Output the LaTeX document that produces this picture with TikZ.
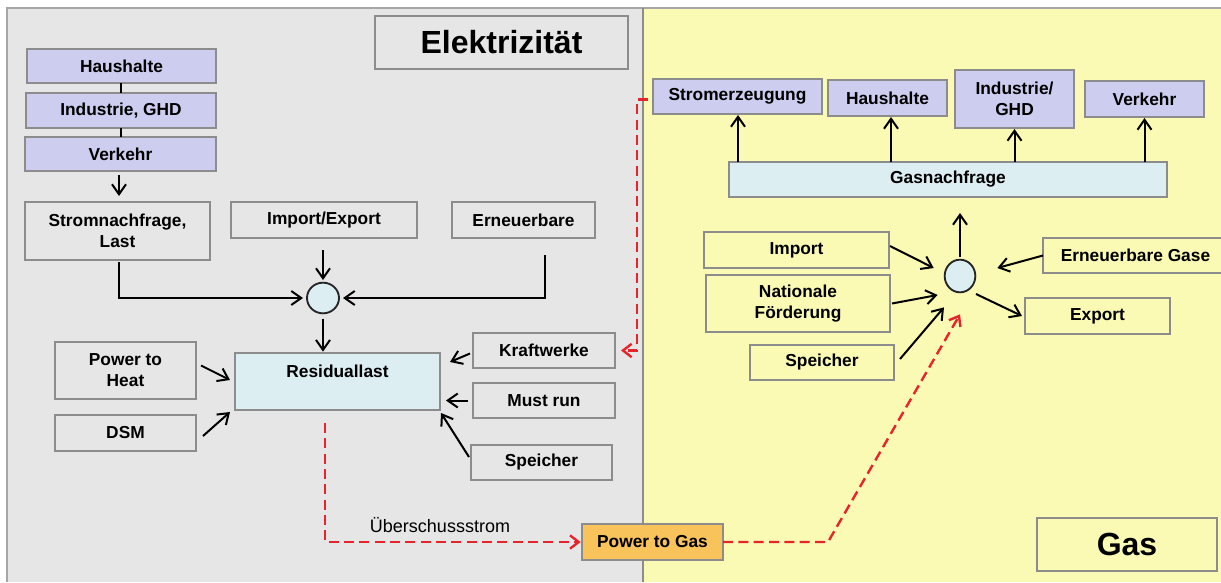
\documentclass[tikz,border=0pt]{standalone}
\usepackage{fontspec}
\setmainfont{Liberation Sans}
\usetikzlibrary{arrows.meta,calc,shapes.geometric}
\definecolor{graybg}{HTML}{E6E6E6}
\definecolor{yellowbg}{HTML}{FAFAB4}
\definecolor{purplebox}{HTML}{CDCDF0}
\definecolor{cyanbox}{HTML}{DCEEF2}
\definecolor{orangebox}{HTML}{F9C35B}
\definecolor{bordergray}{HTML}{8C8C8C}
\definecolor{reddash}{HTML}{E8242B}
\newcommand\bx[7]{\node[#2, minimum width={(#5-#3)*0.75pt}, minimum height={(#6-#4)*0.75pt}] (#1) at ({(#3+#5)/2},{(#4+#6)/2}) {#7};}
\tikzset{
  base/.style={draw=bordergray, line width=1.5pt, inner sep=0pt, outer sep=0pt, align=center,
    font=\fontsize{13}{15.75}\selectfont\bfseries, text=black},
  graybox/.style={base, fill=graybg},
  yellowbox/.style={base, fill=yellowbg},
  purplebox/.style={base, fill=purplebox},
  cyanbox/.style={base, fill=cyanbox},
  orangebox/.style={base, fill=orangebox},
  titlebox/.style={base, font=\fontsize{24}{28}\selectfont\bfseries},
  arr/.style={-{Straight Barb[length=7.5pt,width=10.5pt,line width=1.5pt]}, line width=1.5pt, black},
  plain/.style={line width=1.5pt, black},
  rdash/.style={-{Straight Barb[length=6.5pt,width=10pt,line width=1.8pt]}, line width=1.8pt, reddash, dash pattern=on 7.5pt off 4pt},
  junction/.style={draw=black!85, line width=1.4pt, fill=cyanbox, ellipse, inner sep=0pt, outer sep=0pt},
}
\begin{document}
\begin{tikzpicture}[x=0.75pt,y=-0.75pt]
\useasboundingbox (0,0) rectangle (1221,582);
\fill[white] (0,0) rectangle (1221,582);
\fill[graybg] (7,8) rectangle (643,582);
\fill[yellowbg] (643,8) rectangle (1221,582);
\draw[line width=1.2pt, black!35] (7,582) -- (7,8) -- (1221,8);
\draw[line width=1.5pt, black!45] (643,8) -- (643,582);

% ---------- Elektrizitaet ----------
\bx{tEl}{titlebox, fill=graybg}{375}{16}{628}{69}{Elektrizität}
\bx{hh}{purplebox}{27}{49}{216}{83}{Haushalte}
\bx{ind}{purplebox}{26}{93}{216}{128}{Industrie, GHD}
\bx{vk}{purplebox}{25}{137}{216}{171}{Verkehr}
\bx{strom}{graybox}{25}{202}{210}{260}{Stromnachfrage,\\Last}
\bx{imp}{graybox}{231}{202}{417}{238}{Import/Export}
\bx{ern}{graybox}{452}{202}{595}{238}{Erneuerbare}
\node[junction, minimum width=24pt, minimum height=23pt] (cL) at (323,298) {};
\bx{res}{cyanbox}{235}{353}{440}{410}{Residuallast\\\mbox{}}
\bx{pth}{graybox}{55}{342}{196}{399}{Power to\\Heat}
\bx{dsm}{graybox}{55}{415}{196}{451}{DSM}
\bx{kw}{graybox}{473}{333}{615}{368}{Kraftwerke}
\bx{mr}{graybox}{473}{383}{615}{418}{Must run}
\bx{spL}{graybox}{471}{445}{612}{480}{Speicher}
\bx{ptg}{orangebox}{582}{524}{723}{560}{Power to Gas}
\node[font=\fontsize{13.5}{16}\selectfont, inner sep=0pt] (lbl) at (440,525) {Überschussstrom};

\draw[plain] (hh.south -| ind.north) -- (ind.north);
\draw[plain] (ind.south) -- (ind.south |- vk.north);
\coordinate (vkS) at ($(vk.south)+(-1.5,0)$);
\draw[arr, shorten <=3pt, shorten >=4.5pt] (vkS) -- (vkS |- strom.north);
\coordinate (stS) at ($(strom.south)+(1.5,0)$);
\draw[arr, shorten <=1.5pt, shorten >=3pt] (stS) |- (cL.west);
\draw[arr, shorten <=9pt, shorten >=2pt] (imp.south -| cL.north) -- (cL.north);
\coordinate (erS) at ($(ern.south)+(21.5,0)$);
\draw[arr, shorten <=12.75pt, shorten >=3pt] (erS) |- (cL.east);
\draw[arr, shorten <=4pt, shorten >=1pt] (cL.south) -- (cL.south |- res.north);
\draw[arr] ($(pth.east)+(5,-5)$) -- ($(res.west)+(-5,-1.5)$);
\draw[arr] ($(dsm.east)+(7,3)$) -- ($(res.south west)+(-5,2)$);
\draw[arr] ($(kw.west)+(-3,3)$) -- ($(res.north east)+(10,9)$);
\draw[arr] ($(mr.west)+(-5,0)$) -- ($(res.south east)+(6,-9.5)$);
\draw[arr] ($(spL.west)+(-2,-5.5)$) -- ($(res.south east)+(1,3)$);

% ---------- Gas ----------
\bx{tGas}{titlebox, fill=yellowbg}{1037}{518}{1217}{571}{Gas}
\bx{se}{purplebox}{653}{79}{822}{114}{Stromerzeugung}
\bx{hhG}{purplebox}{828}{80}{947}{116}{Haushalte}
\bx{indG}{purplebox}{955}{70}{1074}{128}{Industrie/\\GHD}
\bx{vkG}{purplebox}{1085}{81}{1204}{117}{Verkehr}
\bx{gn}{cyanbox}{729}{162}{1167}{197}{Gasnachfrage}
\node[junction, minimum width=23pt, minimum height=24.5pt] (cR) at (960,276) {};
\bx{impG}{yellowbox}{704}{232}{889}{268}{Import}
\bx{nf}{yellowbox}{706}{275}{890}{332}{Nationale\\Förderung}
\bx{spG}{yellowbox}{750}{345}{894}{380}{Speicher}
\bx{eg}{yellowbox}{1043}{238}{1228}{273}{Erneuerbare Gase}
\bx{ex}{yellowbox}{1025}{298}{1170}{334}{Export}

\draw[arr, shorten >=0.75pt] ($(gn.north -| se.south)+(0.5,0)$) -- ($(se.south)+(0.5,0)$);
\draw[arr, shorten >=0.75pt] ($(gn.north -| hhG.south)+(3.5,0)$) -- ($(hhG.south)+(3.5,0)$);
\draw[arr, shorten >=0.75pt] (gn.north -| indG.south) -- (indG.south);
\draw[arr, shorten >=0.75pt] (gn.north -| vkG.south) -- (vkG.south);
\draw[arr, shorten <=2pt, shorten >=12pt] (cR.north) -- (cR.north |- gn.south);
\draw[arr] ($(impG.east)+(1,-4)$) -- ($(cR.west)+(-11,-8)$);
\draw[arr] ($(nf.east)+(2,0)$) -- ($(cR.west)+(-7,19)$);
\draw[arr] ($(spG.east)+(6,-3.5)$) -- ($(cR.south)+(-16,15)$);
\draw[arr] (eg.west) -- ($(cR.east)+(22,-8)$);
\draw[arr] ($(cR.center)+(16,18)$) -- ($(ex.west)+(-3,0)$);

% ---------- red dashed links ----------
\draw[rdash, shorten >=1pt] ($(res.south)+(-12.5,13)$) |- (ptg.west);
\draw[rdash] (ptg.east) -- ($(ptg.east)+(105,0)$) -- ($(cR.south)+(0,22)$);
\draw[rdash, shorten <=4pt] ($(se.west)+(0,3)$) -| ($(kw.east)+(22,0)$) -- ($(kw.east)+(6,0)$);
\end{tikzpicture}
\end{document}
